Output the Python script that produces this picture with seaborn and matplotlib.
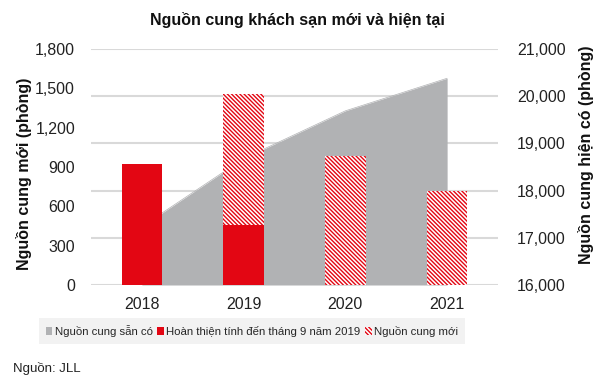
import pandas as pd
import matplotlib
matplotlib.use("Agg")
import matplotlib.pyplot as plt
import seaborn as sns
from matplotlib.patches import Patch

# data
years = ["2018", "2019", "2020", "2021"]
completed = [920, 455, 0, 0]          # Hoàn thiện tính đến tháng 9 năm 2019
new_supply = [0, 1005, 985, 715]      # Nguồn cung mới (hatched part)
existing = [17240, 18680, 19690, 20380]  # Nguồn cung sẵn có (right axis)

RED = "#E30613"
GREY = "#B1B2B4"
GRID = "#D9D9D9"
HATCH = "\\" * 8

sns.set_theme(style="white")
plt.rcParams["font.family"] = ["Liberation Sans", "DejaVu Sans"]
plt.rcParams["hatch.linewidth"] = 1.0

df = pd.DataFrame({
    "year": years,
    "completed": completed,
    "total": [c + n for c, n in zip(completed, new_supply)],
})

fig = plt.figure(figsize=(5.97, 3.81), dpi=100)
ax = fig.add_axes([91 / 597, 1 - 285 / 381, 407 / 597, 236 / 381])
ax2 = ax.twinx()

# bars on top of the area: left axis drawn above the twin axis
ax.set_zorder(ax2.get_zorder() + 1)
ax.patch.set_visible(False)

# existing supply area (right axis)
x = list(range(len(years)))
ax2.fill_between(x, 16000, existing, color=GREY, linewidth=0, zorder=2)
sns.lineplot(x=x, y=existing, ax=ax2, color=GREY, linewidth=0.5, zorder=2)
ax2.set_ylim(16000, 21000)
ax2.set_yticks(range(16000, 21001, 1000))
ax2.set_yticklabels([f"{v:,}" for v in range(16000, 21001, 1000)])
ax2.yaxis.grid(True, color=GRID, linewidth=1.5, zorder=0)
ax2.set_axisbelow(True)

# hatched total bars, then solid completed bars over them
sns.barplot(data=df, x="year", y="total", ax=ax, width=0.4, order=years)
for p in ax.containers[0]:
    p.set_facecolor("white")
    p.set_edgecolor(RED)
    p.set_linewidth(0)
    p.set_hatch(HATCH)
sns.barplot(data=df, x="year", y="completed", ax=ax, width=0.4, order=years,
            color=RED, saturation=1, linewidth=0)

ax.set_xlim(-0.5, 3.5)
ax.set_ylim(0, 1800)
ax.set_yticks(range(0, 1801, 300))
ax.set_yticklabels([f"{v:,}" for v in range(0, 1801, 300)])

for a in (ax, ax2):
    for s in a.spines.values():
        s.set_visible(False)
ax.tick_params(axis="y", length=0, pad=11.5, labelsize=11.5, labelcolor="#222222")
ax.tick_params(axis="x", length=0, pad=8.5, labelsize=11.5, labelcolor="#222222")
ax2.tick_params(axis="y", length=0, pad=13.5, labelsize=11.5, labelcolor="#222222")

ax.set_xlabel("")
ax.set_ylabel("Nguồn cung mới (phòng)", fontsize=11.5, fontweight="bold", color="#111111")
ax.yaxis.set_label_coords(-0.145, 0.47)
ax2.set_ylabel("Nguồn cung hiện có (phòng)", fontsize=11.5, fontweight="bold",
               color="#111111")
ax2.yaxis.set_label_coords(1.197, 0.55)

fig.text(0.498, 0.947, "Nguồn cung khách sạn mới và hiện tại", ha="center",
         va="center", fontsize=11.5, fontweight="bold", color="#111111")

handles = [
    Patch(facecolor=GREY, edgecolor="none"),
    Patch(facecolor=RED, edgecolor="none"),
    Patch(facecolor="white", edgecolor=RED, hatch=HATCH, linewidth=0),
]
labels = ["Nguồn cung sẵn có", "Hoàn thiện tính đến tháng 9 năm 2019", "Nguồn cung mới"]
leg = fig.legend(handles, labels, loc="center", bbox_to_anchor=(0.422, 0.131),
                 ncol=3, frameon=True, fancybox=False, fontsize=8.2,
                 handlelength=0.6, handleheight=0.6, handletextpad=0.2,
                 columnspacing=0.4, borderpad=0.6, borderaxespad=0)
leg.get_frame().set_facecolor("#EFEFEF")
leg.get_frame().set_edgecolor("none")

fig.text(13 / 597, 0.034, "Nguồn: JLL", ha="left", va="center", fontsize=9.5,
         color="#222222")

fig.savefig("out.png", dpi=100)
